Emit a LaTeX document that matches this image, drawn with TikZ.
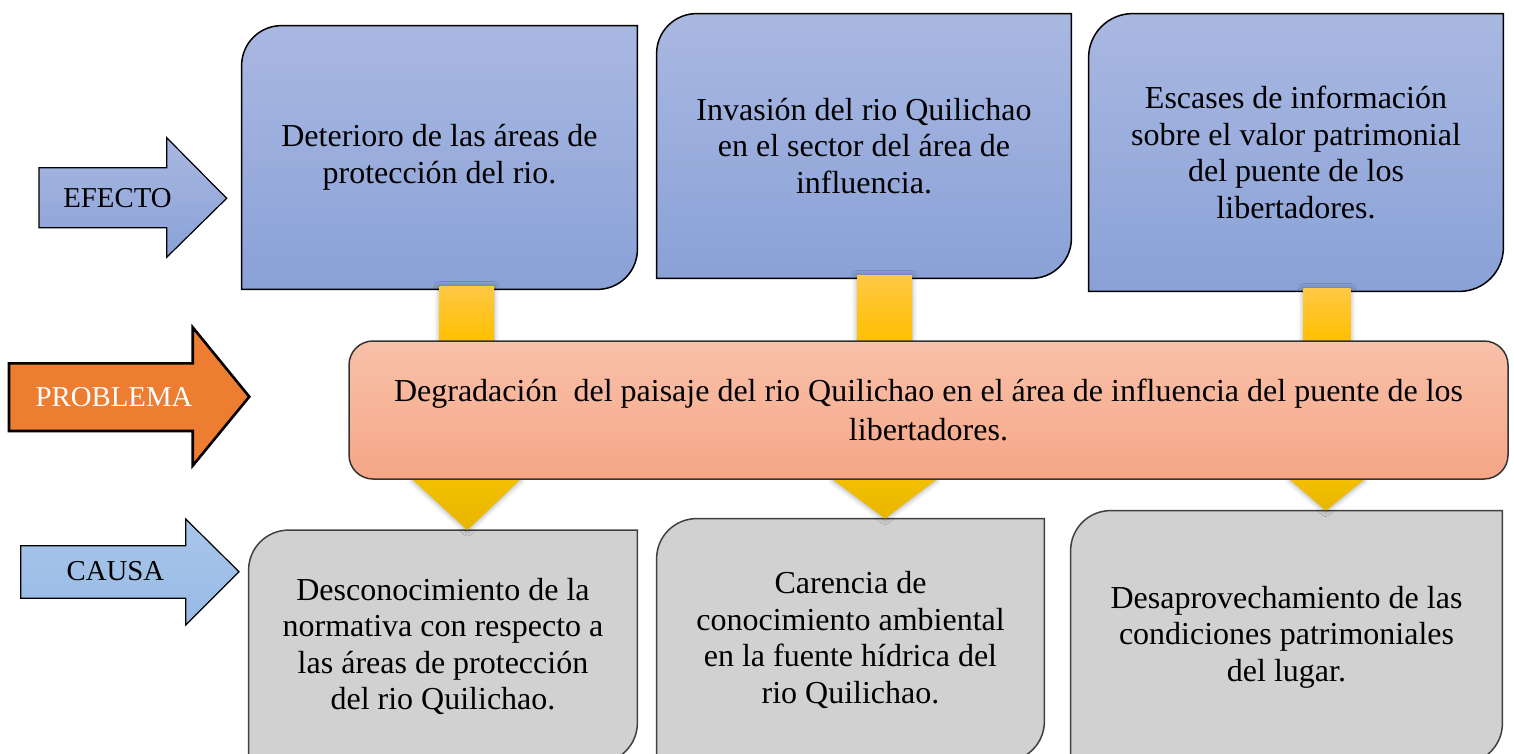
\documentclass[tikz,border=0pt]{standalone}
\usepackage{fontspec}
\setmainfont{Liberation Serif}
\usetikzlibrary{shadows.blur}
\pgfdeclarelayer{bg}
\pgfsetlayers{bg,main}
\definecolor{efTop}{HTML}{A9B8E1}
\definecolor{efBot}{HTML}{8AA1D7}
\definecolor{prTop}{HTML}{F8C1AA}
\definecolor{prBot}{HTML}{F5A686}
\definecolor{caFill}{HTML}{D1D1D1}
\definecolor{caLine}{HTML}{404040}
\definecolor{barTop}{HTML}{FFC845}
\definecolor{barBot}{HTML}{FFC000}
\definecolor{triTop}{HTML}{F3BF00}
\definecolor{triBot}{HTML}{E8B600}
\definecolor{arTop}{HTML}{AAC6EA}
\definecolor{arBot}{HTML}{96BAE5}
\definecolor{probOrange}{HTML}{ED7D31}
\tikzset{
  lbl/.style={inner sep=0pt, align=center, font=\fontsize{14.4}{18}\selectfont, text=black},
  txt/.style={inner sep=0pt, align=center, font=\fontsize{16}{18.3}\selectfont, text=black},
  effshape/.style={draw=black, line width=0.75pt, top color=efTop, bottom color=efBot},
  caushape/.style={draw=caLine, line width=0.75pt, fill=caFill},
  probbox/.style={txt, font=\fontsize{16}{19.5}\selectfont, draw=black!80, line width=0.75pt, rounded corners=12pt, top color=prTop, bottom color=prBot},
  barshape/.style={top color=barTop, bottom color=barBot, draw=none,
    blur shadow={shadow xshift=0pt, shadow yshift=0pt, shadow blur radius=2.5pt, shadow opacity=35}},
  trishape/.style={top color=triTop, bottom color=triBot, draw=none,
    blur shadow={shadow xshift=0pt, shadow yshift=-0.5pt, shadow blur radius=2.5pt, shadow opacity=35}},
  effarrow/.style={draw=black, line width=0.6pt, top color=efTop, bottom color=efBot},
  probarrow/.style={draw=black, line width=1.3pt, fill=probOrange},
  cauarrow/.style={draw=black, line width=0.6pt, top color=arTop, bottom color=arBot},
}
\newcommand\diagshape[3]{%
  \begin{pgfonlayer}{bg}
  \path[#2] (#1.south west) -- ([yshift=-#3]#1.north west)
    arc[start angle=180,end angle=90,radius=#3] -- (#1.north east)
    -- ([yshift=#3]#1.south east) arc[start angle=0,end angle=-90,radius=#3] -- cycle;
  \end{pgfonlayer}}
\begin{document}
\begin{tikzpicture}[x=0.5pt,y=-0.5pt]
\useasboundingbox (0,0) rectangle (1514,754);
% side arrows
\path[effarrow] (39,167.7) -- (166.7,167.7) -- (166.7,137.7) -- (226.7,198.3) -- (166.7,257.3) -- (166.7,227.7) -- (39,227.7) -- cycle;
\path[probarrow] (9,363.3) -- (192.7,363.3) -- (192.7,327.3) -- (249.3,396.7) -- (192.7,465.7) -- (192.7,431) -- (9,431) -- cycle;
\path[cauarrow] (20.7,545.7) -- (185.7,545.7) -- (185.7,519) -- (239,571.7) -- (185.7,625) -- (185.7,598.3) -- (20.7,598.3) -- cycle;
\node[lbl] (lef) at (117.5,198) {EFECTO};
\node[lbl, text=white] (lpr) at (114,397) {PROBLEMA};
\node[lbl] (lca) at (115.5,571.5) {CAUSA};
% effect boxes
\node[txt, minimum width=197.5pt, minimum height=131.5pt] (e1) at (439.5,157.5)
  {Deterioro de las áreas de\\protección del rio.};
\node[txt, minimum width=207pt, minimum height=132pt] (e2) at (864,146)
  {Invasión del rio Quilichao\\en el sector del área de\\influencia.};
\node[txt, minimum width=207pt, minimum height=138.5pt] (e3) at (1296,152.5)
  {Escases de información\\sobre el valor patrimonial\\del puente de los\\libertadores.};
\diagshape{e1}{effshape}{20pt}
\diagshape{e2}{effshape}{20pt}
\diagshape{e3}{effshape}{22pt}
% cause boxes
\node[txt, minimum width=194pt, minimum height=116pt] (c1) at (443,646.5)
  {Desconocimiento de la\\normativa con respecto a\\las áreas de protección\\del rio Quilichao.};
\node[txt, minimum width=193.5pt, minimum height=121pt] (c2) at (850.5,640)
  {Carencia de\\conocimiento ambiental\\en la fuente hídrica del\\rio Quilichao.};
\node[txt, minimum width=215.5pt, minimum height=126pt] (c3) at (1286.5,637)
  {Desaprovechamiento de las\\condiciones patrimoniales\\del lugar.};
\diagshape{c1}{caushape}{20pt}
\diagshape{c2}{caushape}{20pt}
\diagshape{c3}{caushape}{20pt}
% problem box
\coordinate (pc) at (928.5,410);
\coordinate (b1l) at (439.3,0); \coordinate (b1r) at (494,0);
\coordinate (b2l) at (857,0);   \coordinate (b2r) at (912,0);
\coordinate (b3l) at (1303.3,0);\coordinate (b3r) at (1350.7,0);
\coordinate (t1l) at (412.7,0); \coordinate (t1r) at (520,0); \coordinate (t1a) at (467.3,0);
\coordinate (t2l) at (833,0);   \coordinate (t2r) at (936,0); \coordinate (t2a) at (885,0);
\coordinate (t3l) at (1290,0);  \coordinate (t3r) at (1364,0); \coordinate (t3a) at (1325.7,0);
\node[probbox, minimum width=579.5pt, minimum height=69pt] (p) at (pc)
  {Degradación~ del paisaje del rio Quilichao en el área de influencia del puente de los\\libertadores.};
% connectors
\begin{pgfonlayer}{bg}
\path[barshape] ([yshift=1.5pt]e1.south -| b1l) rectangle (p.north -| b1r);
\path[barshape] ([yshift=1.5pt]e2.south -| b2l) rectangle (p.north -| b2r);
\path[barshape] ([yshift=1.5pt]e3.south -| b3l) rectangle (p.north -| b3r);
\path[trishape] (p.south -| t1l) -- (p.south -| t1r) -- (c1.north -| t1a) -- cycle;
\path[trishape] (p.south -| t2l) -- (p.south -| t2r) -- (c2.north -| t2a) -- cycle;
\path[trishape] (p.south -| t3l) -- (p.south -| t3r) -- (c3.north -| t3a) -- cycle;
\end{pgfonlayer}
\end{tikzpicture}
\end{document}
